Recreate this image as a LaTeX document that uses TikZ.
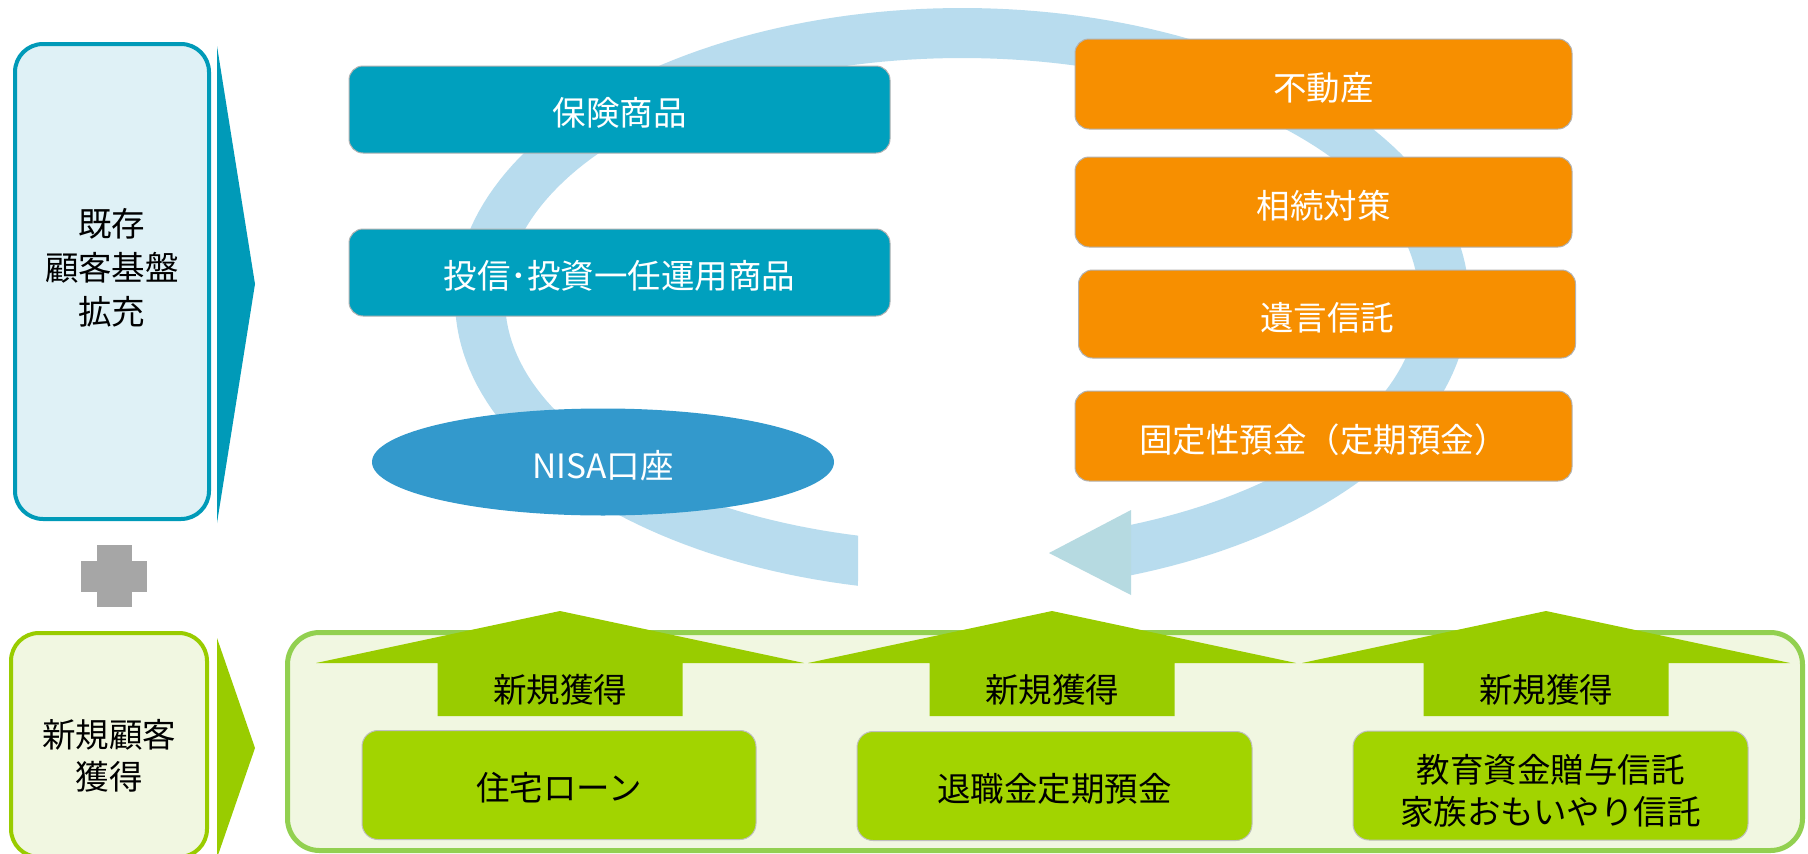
\documentclass[tikz,border=0pt]{standalone}
\usepackage{fontspec}
\setmainfont{Noto Sans CJK JP}
\usetikzlibrary{shapes.geometric}
\definecolor{tealbox}{RGB}{0,160,190}
\definecolor{tealdark}{RGB}{0,154,184}
\definecolor{ltcyan}{RGB}{223,241,246}
\definecolor{orangebox}{RGB}{247,143,0}
\definecolor{nisablue}{RGB}{51,153,204}
\definecolor{bandblue}{RGB}{184,220,238}
\definecolor{headblue}{RGB}{182,218,225}
\definecolor{greenbox}{RGB}{162,212,0}
\definecolor{greenarrow}{RGB}{153,204,0}
\definecolor{contfill}{RGB}{241,247,225}
\definecolor{contborder}{RGB}{146,208,80}
\definecolor{plusgray}{RGB}{166,166,166}
\begin{document}
\begin{tikzpicture}[x=1pt,y=-1pt,
  txt/.style={font=\fontsize{33.5}{42}\selectfont, align=center, inner sep=0pt},
  boxtxt/.style={txt, execute at begin node={\vspace*{0pt}}},
  tealnode/.style={txt, rectangle, draw=black!30, line width=1pt, fill=tealbox, text=white, rounded corners=14pt, minimum width=541pt, minimum height=87pt},
  orangenode/.style={txt, rectangle, draw=black!30, line width=1pt, fill=orangebox, text=white, rounded corners=14pt, minimum width=497pt, minimum height=90pt},
  greennode/.style={txt, rectangle, draw=black!25, line width=1pt, fill=greenbox, text=black, rounded corners=16pt, minimum width=395pt, minimum height=109pt},
  sidebox/.style={rectangle, line width=4pt, rounded corners=28pt, minimum width=194pt},
  uparrow/.style={fill=greenarrow},
]
\useasboundingbox (0,0) rectangle (1808,854);
\clip (0,0) rectangle (1808,854);
\fill[white] (0,0) rectangle (1808,854);

% circular flow band
\coordinate (tail) at (858,560);
\coordinate (headbase) at (1131,550);
\coordinate (headtip) at (1049,553);
\fill[bandblue] plot[domain=101.84:430.53,samples=200] ({962+507*cos(\x)},{300+292*sin(\x)})
  -- plot[domain=428.30:103.15,samples=200] ({962+457*cos(\x)},{300+242*sin(\x)}) -- cycle;
\fill[headblue] (headtip) -- (1131,510) -- (1131,595) -- cycle;

% left column
\node[sidebox, draw=tealdark, fill=ltcyan, minimum height=475pt] (exist) at (112,281.5) {};
\node[txt, font=\fontsize{33.5}{44}\selectfont] (existtxt) at (112,268) {既存\\顧客基盤\\拡充};
\fill[tealdark] (217,46) -- (255,284) -- (217,523) -- cycle;

\fill[plusgray] (97,545) rectangle (132,607);
\fill[plusgray] (81,561) rectangle (147,592);

\node[sidebox, draw=greenarrow, fill=contfill, minimum height=224pt, minimum width=196pt] (newc) at (109,745) {};
\node[txt] (newctxt) at (109,756) {新規顧客\\獲得};
\fill[greenarrow] (217,638) -- (255,748) -- (217,858) -- cycle;

% upper products
\node[tealnode] (hoken) at (619.5,109.5) {};
\node[txt, text=white] at ([yshift=-3.5pt]hoken.center) {保険商品};
\node[tealnode] (toushin) at (619.5,272.5) {};
\node[txt, text=white] at ([yshift=-3.5pt]toushin.center) {投信･投資一任運用商品};
\node[ellipse, fill=nisablue, minimum width=462pt, minimum height=107pt] (nisa) at (603,462) {};
\node[txt, text=white] at ([yshift=-4pt]nisa.center) {NISA口座};

\node[orangenode] (fudousan) at (1323.5,84) {};
\node[txt, text=white] at ([yshift=-3.5pt]fudousan.center) {不動産};
\node[orangenode] (souzoku) at (1323.5,202) {};
\node[txt, text=white] at ([yshift=-3.5pt]souzoku.center) {相続対策};
\node[orangenode, minimum height=88pt] (yuigon) at (1327,314) {};
\node[txt, text=white] at ([yshift=-3.5pt]yuigon.center) {遺言信託};
\node[orangenode] (teiki) at (1323.5,436) {};
\node[txt, text=white] at ([yshift=-3.5pt]teiki.center) {固定性預金（定期預金）};

% new acquisition container
\node[rectangle, draw=contborder, fill=contfill, line width=5pt, rounded corners=32pt, minimum width=1515pt, minimum height=218pt] (cont) at (1045,741.5) {};

\foreach \cx/\nm in {560/a1,1052/a2,1546/a3}{
  \fill[uparrow] (\cx-244,663) -- (\cx,611) -- (\cx+244,663) -- (\cx+122.5,663)
    -- (\cx+122.5,716) -- (\cx-122.5,716) -- (\cx-122.5,663) -- cycle;
  \node[txt] (\nm) at (\cx,690) {新規獲得};
}

\node[greennode, minimum width=394pt] (jutaku) at (559,785) {};
\node[txt] at ([yshift=-3pt]jutaku.center) {住宅ローン};
\node[greennode] (taishoku) at (1054.5,786) {};
\node[txt] at ([yshift=-3pt]taishoku.center) {退職金定期預金};
\node[greennode] (kyouiku) at (1550.5,785.5) {};
\node[txt] at ([yshift=-5pt]kyouiku.center) {教育資金贈与信託\\家族おもいやり信託};
\end{tikzpicture}
\end{document}
